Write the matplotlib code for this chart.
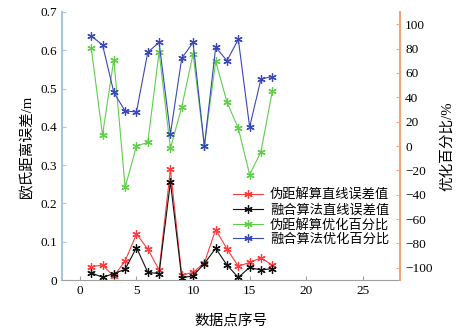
import matplotlib
matplotlib.use('Agg')
import matplotlib.pyplot as plt

plt.rcParams['font.family'] = ['Liberation Serif', 'Noto Sans CJK SC']
plt.rcParams['axes.unicode_minus'] = True

# data point index
idx = list(range(1, 18))

# straight-line error (m), left axis
pr_err = [0.035, 0.039, 0.010, 0.050, 0.120, 0.081, 0.026, 0.289, 0.013, 0.020,
          0.045, 0.132, 0.081, 0.036, 0.046, 0.058, 0.039]
fu_err = [0.019, 0.007, 0.017, 0.028, 0.085, 0.020, 0.017, 0.256, 0.006, 0.011,
          0.043, 0.083, 0.039, 0.007, 0.033, 0.026, 0.030]

# optimization percentage (%), right axis
pr_opt = [80.7, 9, 71, -34, 0, 3, 77, -2, 32, 75.5,
          0, 69.5, 36, 14.5, -23.5, -4.7, 45]
fu_opt = [90.3, 83, 44, 28.7, 28, 77, 85, 10, 72, 85,
          0, 81, 70, 87.6, 15.6, 55, 57]

labels = ['伪距解算直线误差值', '融合算法直线误差值', '伪距解算优化百分比', '融合算法优化百分比']
colors = ['#ff3b3b', '#111111', '#5fcf4a', '#3a48b8']

fig = plt.figure(figsize=(4.61, 3.33), dpi=100)
ax = fig.add_axes([0.134, 0.159, 0.734, 0.805])
ax2 = ax.twinx()

mk = dict(marker=(6, 2, 0), ms=6, mew=0.9, lw=0.8)
l1, = ax.plot(idx, pr_err, color=colors[0], label=labels[0], **mk)
l2, = ax.plot(idx, fu_err, color=colors[1], label=labels[1], **mk)
l3, = ax2.plot(idx, pr_opt, color=colors[2], label=labels[2], **mk)
l4, = ax2.plot(idx, fu_opt, color=colors[3], label=labels[3], **mk)

ax.set_xlim(-1.6, 28.3)
ax.set_ylim(0, 0.7)
ax2.set_ylim(-110, 110)
ax.set_xticks([0, 5, 10, 15, 20, 25])
ax.set_yticks([0, 0.1, 0.2, 0.3, 0.4, 0.5, 0.6, 0.7])
ax.set_yticklabels(['0', '0.1', '0.2', '0.3', '0.4', '0.5', '0.6', '0.7'])
ax2.set_yticks(range(-100, 101, 20))

for a in (ax, ax2):
    a.spines['top'].set_visible(False)
ax.spines['right'].set_visible(False)
ax2.spines['left'].set_visible(False)
ax2.spines['bottom'].set_visible(False)
ax.spines['left'].set_color('#a4c6e8')
ax.spines['left'].set_linewidth(1.5)
ax.spines['bottom'].set_color('#a0a0a0')
ax2.spines['right'].set_color('#f4a37a')
ax2.spines['right'].set_linewidth(1.5)

ax.tick_params(axis='both', direction='in', labelsize=9.5, length=3)
ax.tick_params(axis='y', colors='#a4c6e8', labelcolor='black')
ax.tick_params(axis='x', colors='#a0a0a0', labelcolor='black')
ax2.tick_params(axis='y', direction='in', labelsize=9.5, length=3,
                colors='#f4a37a', labelcolor='black')

ax.set_xlabel('数据点序号', fontsize=10.5, labelpad=12)
ax.set_ylabel('欧氏距离误差/m', fontsize=10.5)
ax2.set_ylabel('优化百分比/%', fontsize=10.5, labelpad=6)

ax.legend(handles=[l1, l2, l3, l4], loc='upper right', bbox_to_anchor=(0.995, 0.375),
          frameon=False, fontsize=9.5, handlelength=2.3, handletextpad=0.5,
          labelspacing=0.15, borderpad=0.2)

fig.savefig('out.png', dpi=100)
